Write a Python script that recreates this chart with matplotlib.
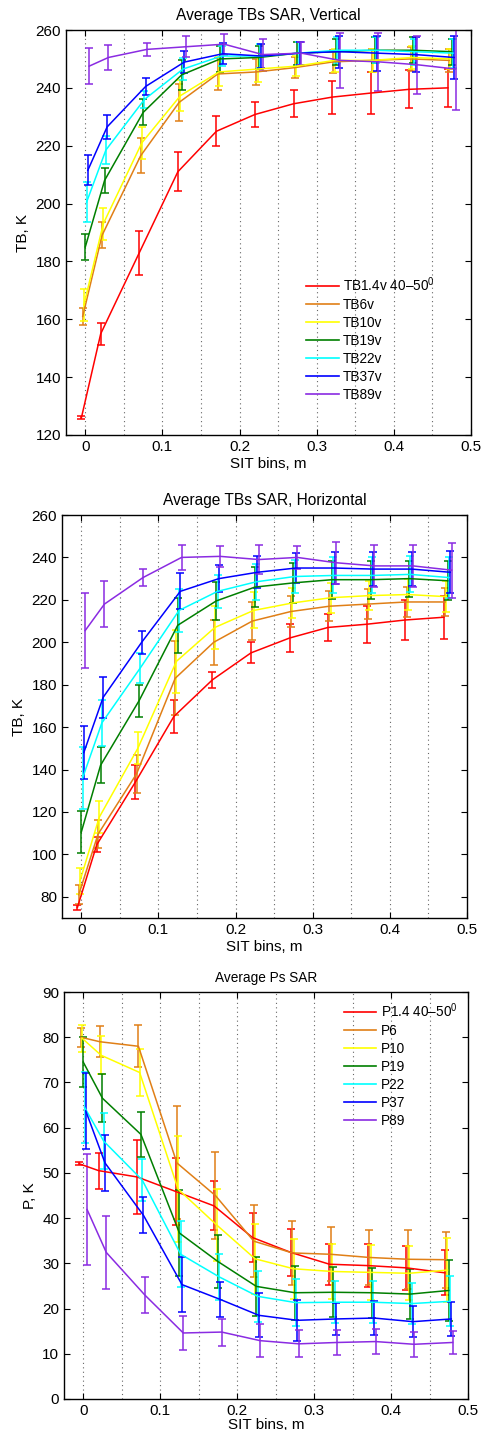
import numpy as np
import matplotlib
matplotlib.use('Agg')
import matplotlib.pyplot as plt
from matplotlib.lines import Line2D

plt.rcParams['font.family'] = ['Liberation Sans', 'DejaVu Sans']
plt.rcParams['mathtext.fontset'] = 'custom'
plt.rcParams['mathtext.rm'] = 'Liberation Sans'
plt.rcParams['mathtext.it'] = 'Liberation Sans:italic'

# ---------------- data ----------------
sit_bins = [0, 0.025, 0.075, 0.125, 0.175, 0.225, 0.275, 0.325, 0.375, 0.425, 0.475]

colors = ['#ff0000', '#e07f16', '#ffff00', '#007f00', '#00ffff', '#0000ff', '#8a2be2']

labels_v = ['TB1.4v 40\u201350$^0$', 'TB6v', 'TB10v', 'TB19v', 'TB22v', 'TB37v', 'TB89v']
tb14v = [126, 155, 183, 211, 225, 230.8, 234.5, 236.8, 238.2, 239.5, 240]
tb14v_err = [0.5, 3.8, 7.6, 6.8, 5.1, 4.3, 4.7, 5.7, 7.2, 6.6, 6.6]
tb6v = [161, 189, 216.5, 235, 244.8, 245.5, 247, 249, 249.5, 250, 249.5]
tb6v_err = [3, 4.5, 6, 6.5, 5.5, 4.5, 3.5, 4, 4, 4, 4]
tb10v = [165, 193, 221, 237.3, 245.5, 246.5, 247.5, 249.5, 249.5, 250.5, 250]
tb10v_err = [5.5, 5.5, 5.5, 5.4, 5, 4.5, 3.5, 4, 4, 4, 3.5]
tb19v = [185, 208, 231.5, 244.5, 250, 250.5, 252, 252.5, 253, 253, 252.5]
tb19v_err = [4.5, 4.3, 4.5, 5.1, 4.5, 4, 4, 4.5, 4.5, 4.5, 4.5]
tb22v = [200.5, 218.5, 236, 246.5, 251, 251, 252, 253, 253, 252.5, 252]
tb22v_err = [7, 4.8, 3, 3.8, 3.5, 4, 4, 4.5, 4.5, 4.5, 5]
tb37v = [211.5, 226.5, 240.5, 248.9, 251.8, 251, 252, 252.5, 252, 251.5, 250.5]
tb37v_err = [5.2, 4.1, 3, 3.8, 3.6, 4, 4, 5.5, 6, 6, 7.5]
tb89v = [247.5, 250.5, 253.3, 254.2, 255.1, 251.5, 252, 249.5, 249, 248, 246.5]
tb89v_err = [6.2, 4.3, 2.3, 3.6, 3.6, 5.5, 4, 9.5, 10, 10, 14]

labels_h = labels_v
tb14h = [75, 104.5, 134, 165, 182.3, 195, 202, 207, 208.5, 210.5, 211.8]
tb14h_err = [1, 3.5, 8, 8, 3.8, 4.9, 6.8, 6.5, 8.7, 9.3, 10.2]
tb6h = [81, 109.5, 138, 183, 200, 210, 214.5, 217, 218, 219, 219]
tb6h_err = [4.6, 6.7, 9, 17.5, 10.5, 9, 7.5, 7, 7, 7, 6.5]
tb10h = [87.5, 117.5, 150, 191, 207, 215, 218.5, 221, 222, 222.5, 221.5]
tb10h_err = [6, 7.5, 7.5, 15, 10, 8.5, 7, 7, 7, 7.5, 7.2]
tb19h = [110.5, 142, 172.5, 208, 219.5, 226, 228, 229.5, 229.5, 230, 229]
tb19h_err = [10, 8.5, 7.5, 13, 9, 9.5, 9.3, 9, 9, 8.5, 9.3]
tb22h = [136, 162, 188, 215, 224, 228.5, 231, 231.5, 231.5, 232, 230.5]
tb22h_err = [14.5, 11, 7, 10, 7.7, 8.5, 8, 8.5, 8.5, 8.5, 9.5]
tb37h = [148, 174, 200, 224, 230, 233, 235, 235, 234.5, 234.5, 233]
tb37h_err = [12.5, 9.5, 5.3, 8.5, 6.5, 7.5, 7, 7.5, 8, 8, 10]
tb89h = [205.5, 218, 230.5, 240, 240.5, 239, 240, 237.5, 236, 236, 234]
tb89h_err = [17.7, 11, 4, 6, 5, 7, 5.5, 10, 10, 10, 13]

labels_p = ['P1.4 40\u201350$^0$', 'P6', 'P10', 'P19', 'P22', 'P37', 'P89']
p14 = [52, 50.5, 49.1, 45.9, 42.7, 35.7, 32.4, 29.8, 29.5, 29, 27.9]
p14_err = [0.3, 4, 8.1, 7.5, 5.4, 5.5, 5.3, 4.5, 4.8, 4.8, 5]
p6 = [80, 79, 78, 52.2, 45, 34.9, 32.3, 32, 31.3, 30.9, 30.8]
p6_err = [2.1, 3.4, 4.6, 12.5, 9.7, 7.9, 7, 6, 6, 6.5, 6.2]
p10 = [79.8, 76, 72.2, 46.4, 38.5, 31, 28.8, 28.2, 28, 27.8, 28.5]
p10_err = [3, 4.2, 5.3, 11.7, 8, 7.7, 6.6, 6, 6, 6, 7]
p19 = [74.5, 66.5, 58.5, 36.7, 30.4, 24.9, 23.5, 23.6, 23.5, 23.2, 24]
p19_err = [5.6, 5.3, 5, 9.5, 5.8, 6.6, 6, 5.5, 5.5, 5.5, 6.7]
p22 = [64.5, 57, 48.4, 32, 27, 22.7, 21.3, 21.4, 21.4, 21.1, 21.6]
p22_err = [7.8, 6.2, 4.6, 7.3, 5, 5.7, 5.2, 4.7, 4.7, 4.6, 5.5]
p37 = [63.7, 52.2, 40.6, 25.3, 22, 18.5, 17.4, 17.7, 17.9, 17.1, 17.7]
p37_err = [8.4, 6.2, 4, 6, 3.9, 4.9, 4.6, 3.6, 3.8, 3.5, 3.8]
p89 = [41.9, 32.4, 23, 14.6, 14.8, 12.9, 12.2, 12.5, 12.7, 12.1, 12.5]
p89_err = [12.2, 8, 4, 3.7, 3, 3.6, 3, 2.8, 2.8, 2.8, 2.5]

# horizontal jitter of each series around the bin centre (drawing style)
jitter = [-0.005, -0.0033, -0.0017, 0.0, 0.0017, 0.0033, 0.005]

x_ticks = [0, 0.1, 0.2, 0.3, 0.4, 0.5]
grid_x = [0, 0.05, 0.1, 0.15, 0.2, 0.25, 0.3, 0.35, 0.4, 0.45]

# ---------------- figure ----------------
W, H = 484, 1430
fig = plt.figure(figsize=(W / 100, H / 100), dpi=100)


def make_axes(left, right, top, bottom):
    return fig.add_axes([left / W, 1 - bottom / H, (right - left) / W, (bottom - top) / H])


def panel(ax, series, errs, labels, ylim, yticks, title, ylabel, title_size,
          leg_anchor, xlabel_pad=2):
    xb = np.array(sit_bins)
    for k, (m, e) in enumerate(zip(series, errs)):
        ax.errorbar(xb + jitter[k], m, yerr=e, color=colors[k], lw=1.1,
                    elinewidth=1.1, capsize=3, capthick=1.1)
    ax.set_xlim(-0.025, 0.5)
    ax.set_ylim(*ylim)
    ax.set_xticks(x_ticks)
    ax.set_xticklabels(['0', '0.1', '0.2', '0.3', '0.4', '0.5'])
    ax.set_yticks(yticks)
    for gx in grid_x:
        ax.axvline(gx, color='0.4', lw=0.8, ls=(0, (1, 3)), zorder=0)
    ax.tick_params(direction='in', top=True, right=True, length=4,
                   labelsize=11, width=0.8)
    for s in ax.spines.values():
        s.set_linewidth(1.0)
    ax.set_title(title, fontsize=title_size, pad=7)
    ax.set_xlabel('SIT bins, m', fontsize=11, labelpad=xlabel_pad)
    ax.set_ylabel(ylabel, fontsize=11, labelpad=4)
    if leg_anchor is not None:
        handles = [Line2D([0], [0], color=c, lw=1.2) for c in colors]
        ax.legend(handles, labels, loc='upper left', bbox_to_anchor=leg_anchor,
                  frameon=False, fontsize=9.8, handlelength=2.4,
                  handletextpad=0.3, labelspacing=0.3, borderpad=0,
                  borderaxespad=0)


ax1 = make_axes(66, 471, 30, 435)
panel(ax1, [tb14v, tb6v, tb10v, tb19v, tb22v, tb37v, tb89v],
      [tb14v_err, tb6v_err, tb10v_err, tb19v_err, tb22v_err, tb37v_err, tb89v_err],
      labels_v, (120, 260), list(range(120, 261, 20)),
      'Average TBs SAR, Vertical', 'TB, K', 11.2, (0.593, 0.395))

ax2 = make_axes(62, 467, 515, 918)
panel(ax2, [tb14h, tb6h, tb10h, tb19h, tb22h, tb37h, tb89h],
      [tb14h_err, tb6h_err, tb10h_err, tb19h_err, tb22h_err, tb37h_err, tb89h_err],
      labels_h, (70, 260), list(range(80, 261, 20)),
      'Average TBs SAR, Horizontal', 'TB, K', 11.2, None)

ax3 = make_axes(64, 468, 992, 1399)
panel(ax3, [p14, p6, p10, p19, p22, p37, p89],
      [p14_err, p6_err, p10_err, p19_err, p22_err, p37_err, p89_err],
      labels_p, (0, 90), list(range(0, 91, 10)),
      'Average Ps SAR', 'P, K', 9.8, (0.6925, 0.978), xlabel_pad=0)

fig.savefig('out.png', dpi=100)
